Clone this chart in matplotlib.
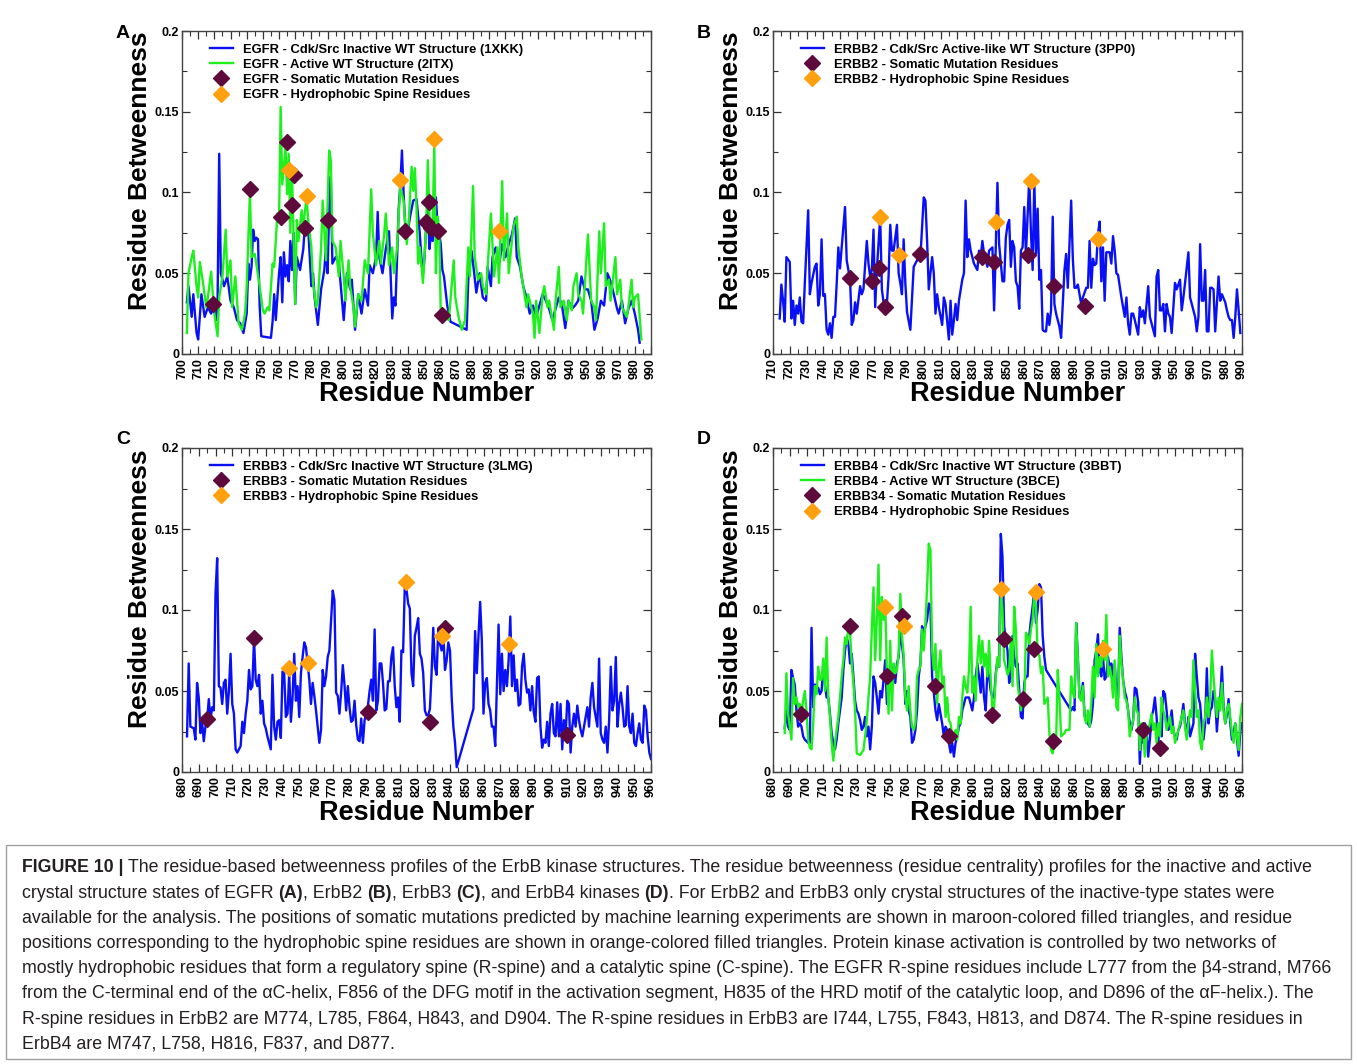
import matplotlib
matplotlib.use("Agg")
import matplotlib.pyplot as plt
from matplotlib.ticker import MultipleLocator
from matplotlib.lines import Line2D
from matplotlib.patches import Rectangle

plt.rcParams['font.family'] = ['Liberation Sans', 'DejaVu Sans']

# ---------------- data (residue, betweenness) ----------------
# A: EGFR
egfr_inactive = [
    (703, .032), (704, .042), (706, .023), (707, .037), (709, .013), (710, .009), (712, .037), (714, .023),
    (716, .029), (718, .025), (720, .031), (721, .021), (722, .033), (723, .124), (724, .050), (726, .042),
    (728, .048), (730, .033), (732, .029), (734, .021), (736, .019), (738, .013), (740, .025), (741, .056),
    (742, .046), (743, .054), (744, .077), (745, .070), (746, .072), (747, .071), (748, .030), (749, .011),
    (755, .010), (756, .020), (757, .037), (758, .021), (760, .050), (761, .060), (762, .032), (763, .063),
    (764, .048), (765, .055), (766, .045), (767, .070), (768, .052), (769, .075), (770, .031), (771, .060),
    (773, .052), (775, .065), (776, .080), (777, .075), (778, .078), (780, .042), (781, .050), (782, .035),
    (784, .018), (786, .040), (788, .052), (789, .066), (790, .050), (791, .090), (792, .110), (793, .056),
    (795, .060), (797, .056), (799, .033), (800, .021), (802, .050), (804, .040), (805, .046), (807, .015),
    (809, .037), (811, .025), (813, .040), (815, .030), (816, .055), (818, .050), (820, .060), (821, .088),
    (822, .060), (824, .050), (826, .065), (828, .076), (830, .022), (831, .035), (832, .030), (834, .090),
    (835, .105), (836, .126), (837, .100), (838, .080), (839, .072), (841, .085), (843, .095), (845, .096),
    (847, .075), (848, .060), (849, .050), (850, .060), (851, .080), (852, .090), (853, .065), (854, .075),
    (855, .070), (856, .080), (857, .097), (858, .080), (859, .075), (860, .068), (861, .052), (862, .048),
    (864, .030), (866, .020), (876, .015), (877, .046), (879, .064), (880, .056), (882, .038), (884, .050),
    (886, .035), (888, .033), (889, .054), (891, .042), (892, .060), (894, .066), (896, .055), (898, .068),
    (900, .060), (902, .068), (904, .074), (906, .084), (907, .060), (909, .054), (911, .042), (913, .035),
    (915, .025), (917, .030), (919, .023), (921, .030), (923, .037), (925, .033), (927, .028), (929, .021),
    (931, .028), (933, .035), (935, .030), (937, .016), (939, .033), (941, .028), (943, .030), (945, .033),
    (947, .048), (949, .040), (951, .040), (953, .033), (955, .015), (957, .022), (959, .033), (961, .030),
    (963, .050), (965, .045), (967, .037), (969, .028), (970, .025), (972, .033), (974, .019), (976, .028),
    (978, .033), (980, .025), (982, .015), (983, .007)]

egfr_active = [
    (703, .013), (704, .050), (706, .060), (707, .064), (709, .042), (710, .035), (711, .057), (713, .044),
    (715, .029), (716, .035), (718, .051), (720, .025), (722, .011), (723, .035), (725, .048), (727, .077),
    (728, .048), (730, .058), (731, .029), (733, .048), (735, .019), (736, .017), (737, .015), (739, .025),
    (740, .042), (742, .100), (743, .060), (745, .062), (748, .042), (750, .027), (751, .025), (753, .029),
    (754, .027), (756, .056), (757, .054), (759, .087), (760, .083), (761, .153), (762, .105), (764, .128),
    (765, .099), (766, .124), (767, .075), (768, .112), (770, .031), (771, .083), (772, .070), (774, .089),
    (775, .079), (777, .097), (778, .083), (780, .066), (781, .044), (783, .029), (784, .033), (786, .066),
    (787, .095), (789, .058), (791, .126), (792, .120), (793, .070), (795, .066), (797, .048), (798, .070),
    (800, .048), (801, .033), (803, .058), (804, .042), (806, .029), (807, .017), (809, .037), (811, .033),
    (813, .058), (815, .050), (817, .102), (818, .075), (820, .055), (822, .070), (823, .056), (825, .074),
    (826, .087), (828, .055), (830, .066), (831, .050), (833, .066), (834, .087), (835, .103), (837, .095),
    (839, .068), (840, .079), (842, .116), (843, .101), (844, .115), (845, .091), (846, .056), (847, .066),
    (849, .044), (851, .079), (852, .120), (853, .085), (855, .079), (856, .130), (857, .050), (858, .085),
    (859, .077), (860, .025), (862, .023), (865, .021), (868, .058), (869, .035), (871, .023), (873, .015),
    (875, .021), (877, .066), (878, .048), (880, .104), (881, .060), (883, .046), (885, .050), (886, .042),
    (888, .037), (890, .070), (891, .087), (893, .048), (895, .066), (896, .044), (898, .107), (899, .058),
    (901, .087), (902, .050), (904, .070), (905, .079), (907, .085), (908, .066), (910, .048), (911, .042),
    (913, .029), (914, .037), (917, .025), (918, .010), (919, .033), (921, .013), (923, .037), (924, .042),
    (926, .029), (927, .033), (930, .015), (931, .033), (933, .054), (934, .029), (936, .033), (938, .021),
    (939, .033), (941, .027), (942, .042), (944, .050), (945, .037), (947, .033), (948, .025), (950, .058),
    (951, .074), (953, .033), (955, .029), (956, .021), (958, .076), (959, .050), (961, .081), (962, .042),
    (964, .046), (965, .033), (968, .060), (969, .037), (971, .046), (972, .029), (975, .023), (976, .029),
    (978, .046), (979, .029), (980, .035), (982, .037), (984, .009)]

egfr_somatic = [(719, .031), (742, .102), (761, .085), (765, .131), (768, .092), (769, .111), (776, .078),
                (790, .083), (838, .076), (851, .082), (853, .094), (854, .078), (858, .076), (861, .024)]
egfr_spine = [(766, .114), (777, .098), (835, .108), (856, .133), (896, .076)]

# B: ERBB2
erbb2_inactive = [
    (714, .022), (715, .043), (716, .033), (717, .020), (718, .060), (720, .057), (721, .022), (722, .033),
    (723, .018), (724, .030), (725, .025), (726, .035), (727, .020), (728, .019), (729, .044), (731, .089),
    (732, .037), (733, .044), (735, .054), (736, .056), (737, .030), (738, .037), (739, .071), (740, .036),
    (741, .037), (742, .015), (743, .012), (744, .019), (745, .010), (746, .023), (747, .023), (748, .043),
    (749, .066), (750, .053), (751, .066), (753, .091), (754, .058), (756, .046), (757, .018), (758, .021),
    (759, .032), (760, .025), (762, .042), (763, .037), (764, .040), (766, .070), (767, .056), (768, .048),
    (769, .052), (770, .077), (771, .029), (772, .052), (774, .085), (775, .040), (776, .032), (778, .031),
    (779, .048), (780, .080), (781, .064), (782, .064), (784, .080), (785, .050), (786, .044), (787, .037),
    (788, .071), (789, .044), (790, .026), (792, .015), (793, .035), (794, .054), (796, .058), (797, .063),
    (798, .060), (800, .097), (801, .095), (802, .070), (803, .040), (805, .060), (806, .050), (807, .025),
    (808, .037), (809, .029), (811, .018), (812, .035), (813, .031), (815, .009), (816, .033), (817, .012),
    (818, .021), (819, .031), (820, .021), (821, .033), (823, .046), (824, .050), (825, .095), (826, .060),
    (827, .071), (828, .064), (830, .056), (832, .052), (833, .064), (834, .060), (835, .070), (836, .062),
    (838, .054), (839, .064), (841, .066), (842, .027), (843, .066), (844, .106), (845, .068), (847, .045),
    (848, .045), (849, .072), (850, .080), (851, .083), (852, .054), (853, .070), (854, .066), (855, .045),
    (856, .042), (857, .028), (858, .064), (859, .066), (860, .091), (861, .062), (862, .085), (863, .109),
    (864, .075), (865, .052), (866, .107), (867, .062), (868, .090), (869, .046), (870, .052), (871, .015),
    (872, .014), (873, .014), (874, .025), (875, .018), (876, .027), (877, .085), (878, .031), (879, .025),
    (881, .017), (882, .010), (883, .031), (884, .052), (885, .062), (886, .041), (888, .095), (889, .059),
    (890, .041), (891, .041), (892, .043), (893, .037), (894, .031), (895, .035), (897, .041), (898, .041),
    (899, .070), (900, .041), (901, .059), (902, .055), (903, .056), (904, .074), (905, .082), (906, .045),
    (907, .066), (908, .033), (909, .063), (911, .063), (912, .056), (913, .073), (914, .064), (915, .050),
    (916, .049), (918, .035), (919, .029), (920, .023), (921, .035), (922, .019), (923, .012), (924, .025),
    (925, .025), (926, .021), (928, .012), (929, .029), (930, .023), (931, .027), (932, .019), (934, .042),
    (935, .023), (937, .015), (938, .011), (939, .048), (940, .052), (941, .027), (942, .027), (943, .031),
    (944, .014), (945, .031), (946, .025), (947, .023), (948, .013), (949, .029), (950, .044), (951, .040),
    (953, .046), (954, .027), (955, .035), (956, .044), (958, .063), (959, .035), (961, .027), (962, .023),
    (963, .014), (964, .023), (965, .068), (966, .033), (967, .033), (968, .052), (969, .014), (970, .014),
    (971, .041), (972, .041), (973, .040), (974, .014), (975, .031), (976, .048), (977, .033), (978, .037),
    (980, .032), (981, .027), (982, .023), (983, .021), (984, .021), (985, .010), (986, .023), (987, .040),
    (988, .027), (989, .013)]

erbb2_somatic = [(756, .047), (769, .045), (773, .053), (777, .029), (798, .062), (835, .060), (842, .057),
                 (862, .061), (878, .042), (896, .030)]
erbb2_spine = [(774, .085), (785, .061), (843, .082), (864, .107), (904, .071)]

# C: ERBB3
erbb3_inactive = [
    (683, .022), (684, .067), (685, .028), (687, .027), (688, .020), (689, .055), (690, .046), (691, .024),
    (692, .031), (693, .019), (694, .028), (695, .032), (696, .045), (697, .032), (698, .040), (699, .038),
    (700, .110), (701, .132), (702, .053), (703, .052), (704, .042), (705, .055), (706, .057), (707, .036),
    (708, .050), (709, .073), (710, .042), (711, .036), (712, .014), (713, .012), (714, .014), (715, .016),
    (716, .031), (717, .024), (718, .036), (719, .044), (720, .063), (721, .051), (722, .053), (723, .082),
    (724, .057), (725, .053), (726, .060), (727, .036), (728, .044), (729, .030), (730, .027), (731, .022),
    (733, .014), (734, .060), (735, .028), (736, .020), (737, .031), (738, .032), (739, .021), (740, .062),
    (741, .061), (742, .034), (743, .036), (744, .061), (745, .031), (746, .046), (747, .073), (748, .044),
    (749, .053), (750, .034), (751, .061), (752, .071), (753, .080), (754, .077), (755, .067), (756, .057),
    (757, .042), (758, .055), (759, .047), (760, .038), (761, .028), (762, .018), (763, .026), (764, .063),
    (765, .053), (766, .059), (767, .071), (768, .075), (769, .094), (770, .112), (771, .106), (772, .049),
    (773, .047), (774, .036), (775, .049), (776, .066), (777, .054), (778, .038), (779, .053), (780, .040),
    (781, .031), (782, .032), (783, .044), (784, .029), (785, .020), (786, .019), (787, .033), (788, .018),
    (789, .032), (790, .036), (791, .041), (792, .050), (793, .057), (794, .044), (795, .088), (796, .038),
    (797, .044), (798, .067), (799, .067), (800, .055), (801, .038), (802, .039), (803, .056), (804, .056),
    (805, .071), (806, .077), (807, .053), (808, .040), (809, .046), (810, .031), (811, .075), (812, .074),
    (813, .114), (814, .113), (815, .104), (816, .101), (817, .061), (818, .053), (819, .084), (820, .089),
    (821, .095), (822, .073), (823, .070), (824, .061), (825, .038), (826, .035), (827, .035), (828, .039),
    (829, .061), (830, .089), (831, .065), (832, .060), (833, .088), (834, .079), (835, .075), (836, .085),
    (837, .063), (838, .069), (839, .080), (840, .075), (841, .046), (842, .028), (843, .018), (844, .003),
    (854, .039), (855, .087), (856, .061), (857, .084), (858, .105), (859, .081), (860, .036), (861, .055),
    (862, .058), (863, .042), (864, .038), (865, .028), (866, .028), (867, .016), (868, .053), (869, .091),
    (870, .048), (871, .073), (872, .050), (873, .063), (874, .053), (875, .069), (876, .096), (877, .053),
    (878, .072), (879, .050), (880, .057), (881, .041), (882, .042), (883, .065), (884, .073), (885, .057),
    (886, .049), (887, .051), (888, .038), (889, .053), (890, .037), (891, .031), (892, .058), (893, .059),
    (894, .028), (895, .015), (896, .020), (897, .018), (898, .031), (899, .016), (900, .036), (901, .042),
    (902, .024), (903, .022), (904, .043), (905, .022), (906, .042), (907, .014), (908, .032), (909, .022),
    (910, .044), (911, .042), (912, .012), (913, .028), (914, .036), (915, .028), (916, .041), (917, .032),
    (918, .026), (919, .022), (920, .028), (921, .034), (922, .040), (923, .028), (924, .046), (925, .055),
    (926, .040), (927, .034), (928, .028), (929, .070), (930, .024), (931, .020), (932, .018), (933, .028),
    (934, .012), (935, .032), (936, .065), (937, .038), (938, .044), (939, .071), (940, .028), (941, .042),
    (942, .049), (943, .040), (944, .028), (945, .029), (946, .053), (947, .028), (948, .024), (949, .036),
    (950, .018), (951, .016), (952, .024), (953, .030), (954, .020), (955, .018), (956, .041), (957, .038),
    (958, .022), (959, .012), (960, .008)]

erbb3_somatic = [(695, .033), (723, .083), (791, .037), (828, .031), (837, .089), (910, .023)]
erbb3_spine = [(744, .064), (755, .067), (814, .117), (835, .084), (875, .079)]

# D: ERBB4
erbb4_inactive = [
    (687, .027), (688, .038), (689, .028), (690, .026), (691, .063), (692, .058), (693, .054), (694, .038),
    (695, .028), (696, .030), (697, .028), (698, .022), (699, .020), (700, .019), (701, .018), (702, .018),
    (703, .089), (704, .040), (705, .054), (706, .050), (707, .052), (708, .048), (709, .050), (710, .065),
    (711, .054), (712, .046), (713, .046), (714, .036), (715, .024), (716, .018), (717, .014), (718, .020),
    (719, .030), (720, .038), (721, .046), (722, .063), (723, .075), (724, .083), (725, .079), (726, .067),
    (727, .073), (728, .059), (729, .044), (730, .038), (731, .036), (732, .032), (733, .026), (734, .028),
    (735, .034), (736, .022), (737, .028), (738, .014), (739, .028), (740, .059), (741, .055), (742, .046),
    (743, .036), (744, .050), (745, .046), (746, .057), (747, .069), (748, .042), (749, .055), (750, .053),
    (751, .063), (752, .065), (753, .055), (754, .067), (755, .071), (756, .086), (757, .079), (758, .069),
    (759, .042), (760, .050), (761, .038), (762, .034), (763, .018), (764, .020), (765, .026), (766, .038),
    (767, .059), (768, .067), (769, .090), (770, .086), (771, .090), (772, .094), (773, .104), (774, .103),
    (775, .059), (776, .049), (777, .038), (778, .032), (779, .042), (780, .036), (781, .030), (782, .022),
    (783, .028), (784, .026), (785, .018), (786, .012), (787, .018), (788, .0095), (789, .018), (790, .022),
    (791, .028), (792, .030), (793, .038), (794, .042), (795, .046), (796, .046), (797, .046), (798, .042),
    (799, .038), (800, .046), (801, .059), (802, .067), (803, .059), (804, .049), (805, .065), (806, .046),
    (807, .038), (808, .063), (809, .059), (810, .050), (811, .046), (812, .046), (813, .061), (814, .069),
    (815, .065), (816, .147), (817, .133), (818, .090), (819, .082), (820, .075), (821, .055), (822, .063),
    (823, .084), (824, .071), (825, .065), (826, .067), (827, .050), (828, .034), (829, .033), (830, .055),
    (831, .059), (832, .059), (833, .084), (834, .094), (835, .102), (836, .112), (837, .092), (838, .100),
    (839, .116), (840, .114), (841, .084), (842, .071), (843, .063), (858, .038), (859, .040), (860, .038),
    (861, .092), (862, .071), (863, .046), (864, .045), (865, .055), (866, .035), (867, .032), (868, .030),
    (869, .028), (870, .032), (871, .042), (872, .069), (873, .075), (874, .085), (875, .063), (876, .059),
    (877, .071), (878, .057), (879, .059), (880, .071), (881, .065), (882, .067), (883, .059), (884, .067),
    (885, .050), (886, .046), (887, .089), (888, .071), (889, .057), (890, .050), (891, .046), (892, .038),
    (893, .030), (894, .026), (895, .032), (896, .052), (897, .051), (898, .043), (899, .005), (900, .028),
    (901, .018), (902, .030), (903, .026), (904, .0095), (905, .020), (906, .034), (907, .038), (908, .046),
    (909, .034), (910, .018), (911, .030), (912, .022), (913, .050), (914, .048), (915, .038), (916, .026),
    (917, .030), (918, .038), (919, .026), (920, .022), (921, .020), (922, .026), (923, .028), (924, .034),
    (925, .042), (926, .030), (927, .022), (928, .034), (929, .022), (930, .026), (931, .030), (932, .073),
    (933, .059), (934, .046), (935, .042), (936, .028), (937, .020), (938, .030), (939, .064), (940, .030),
    (941, .038), (942, .040), (943, .050), (944, .045), (945, .025), (946, .040), (947, .045), (948, .065),
    (949, .040), (950, .030), (951, .035), (952, .045), (953, .030), (954, .020), (955, .025), (956, .030),
    (957, .020), (958, .010), (959, .025), (960, .030)]

erbb4_active = [
    (687, .024), (688, .061), (689, .036), (690, .028), (691, .020), (692, .058), (693, .042), (694, .046),
    (695, .040), (696, .042), (697, .036), (698, .044), (699, .050), (700, .038), (701, .020), (702, .015),
    (703, .014), (704, .030), (705, .053), (706, .048), (707, .065), (708, .057), (709, .057), (710, .070),
    (711, .050), (712, .083), (713, .046), (714, .034), (715, .018), (716, .007), (717, .018), (718, .026),
    (719, .034), (720, .046), (721, .059), (722, .069), (723, .083), (724, .079), (725, .090), (726, .086),
    (727, .067), (728, .055), (729, .038), (730, .0115), (731, .011), (732, .0105), (733, .012), (734, .0136),
    (735, .022), (736, .032), (737, .046), (738, .059), (739, .088), (740, .114), (741, .069), (742, .094),
    (743, .128), (744, .069), (745, .108), (746, .094), (747, .104), (748, .061), (749, .036), (750, .081),
    (751, .038), (752, .067), (753, .061), (754, .063), (755, .073), (756, .110), (757, .084), (758, .072),
    (759, .046), (760, .038), (761, .053), (762, .038), (763, .028), (764, .026), (765, .030), (766, .059),
    (767, .063), (768, .065), (769, .088), (770, .075), (771, .092), (772, .114), (773, .141), (774, .137),
    (775, .075), (776, .063), (777, .079), (778, .042), (779, .065), (780, .075), (781, .053), (782, .059),
    (783, .034), (784, .046), (785, .032), (786, .030), (787, .022), (788, .020), (789, .026), (790, .020),
    (791, .034), (792, .030), (793, .046), (794, .059), (795, .053), (796, .049), (797, .063), (798, .102),
    (799, .049), (800, .059), (801, .044), (802, .069), (803, .084), (804, .067), (805, .081), (806, .065),
    (807, .073), (808, .059), (809, .081), (810, .057), (811, .038), (812, .040), (813, .059), (814, .071),
    (815, .065), (816, .112), (817, .100), (818, .069), (819, .065), (820, .060), (821, .063), (822, .083),
    (823, .053), (824, .102), (825, .088), (826, .055), (827, .046), (828, .038), (829, .046), (830, .042),
    (831, .086), (832, .084), (833, .079), (834, .088), (835, .094), (836, .110), (837, .102), (838, .073),
    (839, .072), (840, .061), (841, .065), (842, .042), (843, .044), (844, .046), (845, .024), (846, .0136),
    (847, .0115), (848, .018), (849, .018), (850, .063), (851, .046), (852, .022), (853, .023), (854, .024),
    (855, .026), (856, .026), (857, .026), (858, .059), (859, .049), (860, .046), (861, .092), (862, .069),
    (863, .046), (864, .044), (865, .053), (866, .034), (867, .030), (868, .038), (869, .028), (870, .042),
    (871, .065), (872, .046), (873, .079), (874, .059), (875, .071), (876, .065), (877, .081), (878, .069),
    (879, .097), (880, .059), (881, .065), (882, .059), (883, .046), (884, .069), (885, .040), (886, .038),
    (887, .084), (888, .067), (889, .057), (890, .046), (891, .044), (892, .038), (893, .022), (894, .028),
    (895, .032), (896, .046), (897, .038), (898, .036), (899, .0136), (900, .030), (901, .026), (902, .0095),
    (903, .022), (904, .026), (905, .030), (906, .036), (907, .026), (908, .030), (909, .018), (910, .030),
    (911, .022), (912, .046), (913, .038), (914, .034), (915, .026), (916, .030), (917, .034), (918, .024),
    (919, .028), (920, .018), (921, .022), (922, .026), (923, .030), (924, .034), (925, .038), (926, .028),
    (927, .020), (928, .030), (929, .038), (930, .034), (931, .069), (932, .050), (933, .034), (934, .038),
    (935, .018), (936, .014), (937, .030), (938, .034), (939, .046), (940, .034), (941, .046), (942, .075),
    (943, .059), (944, .046), (945, .034), (946, .046), (947, .038), (948, .055), (949, .038), (950, .030),
    (951, .038), (952, .042), (953, .034), (954, .024), (955, .018), (956, .030), (957, .022), (958, .0136),
    (959, .034), (960, .042)]

erbb4_somatic = [(697, .036), (726, .090), (748, .059), (757, .096), (777, .053), (785, .022), (811, .035),
                 (818, .082), (829, .045), (836, .076), (847, .019), (901, .026), (911, .015)]
erbb4_spine = [(747, .102), (758, .090), (816, .113), (837, .111), (877, .076)]

# ---------------- styling ----------------
BLUE = '#0a10f5'
GREEN = '#1ef01e'
MAROON = '#5e0a3c'
ORANGE = '#ffa00f'

fig = plt.figure(figsize=(13.57, 10.64), dpi=100)
W, H = 1357.0, 1064.0


def px_axes(left, top, right, bottom):
    return fig.add_axes([left / W, 1 - bottom / H, (right - left) / W, (bottom - top) / H])


def draw_panel(ax, series, somatic, spine, labels, x0, x1):
    handles = []
    for pts, color in series:
        xs, ys = zip(*pts)
        ax.plot(xs, ys, color=color, lw=1.7, zorder=2)
        handles.append(Line2D([], [], color=color, lw=1.7))
    sx, sy = zip(*somatic)
    ax.plot(sx, sy, 'D', color=MAROON, ms=8, ls='none', zorder=4)
    ox, oy = zip(*spine)
    ax.plot(ox, oy, 'D', color=ORANGE, ms=8, ls='none', zorder=4)
    handles.append(Line2D([], [], marker='D', color=MAROON, ms=8, ls='none'))
    handles.append(Line2D([], [], marker='D', color=ORANGE, ms=8, ls='none'))

    ax.set_xlim(x0, x1)
    ax.set_ylim(0, 0.2)
    xt = list(range(x0, x1 + 1, 10))
    ax.set_xticks(xt, [str(t) for t in xt], rotation=90, fontsize=9, fontweight='bold')
    ax.set_yticks([0, 0.05, 0.1, 0.15, 0.2], ['0', '0.05', '0.1', '0.15', '0.2'],
                  fontsize=9, fontweight='bold')
    ax.xaxis.set_minor_locator(MultipleLocator(5))
    ax.yaxis.set_minor_locator(MultipleLocator(0.025))
    ax.tick_params(which='both', direction='in', top=True, right=True, color='#333333')
    ax.tick_params(axis='x', pad=3)
    ax.tick_params(axis='y', pad=2)
    ax.tick_params(which='major', length=6, width=0.9)
    ax.tick_params(which='minor', length=3.5, width=0.8)
    for s in ax.spines.values():
        s.set_color('#444444')
        s.set_linewidth(1.0)
    ax.set_xlabel('Residue Number', fontsize=19.5, fontweight='bold', labelpad=0)
    ax.set_ylabel('Residue Betweenness', fontsize=19, fontweight='bold', labelpad=1)
    ax.xaxis.set_label_coords(0.522, -0.085)
    ax.yaxis.set_label_coords(-0.064, 0.567)
    ax.legend(handles, labels, loc='upper left', bbox_to_anchor=(0.04, 0.99), frameon=False,
              prop={'size': 9.4, 'weight': 'bold'}, handlelength=1.75, handletextpad=0.75,
              labelspacing=0.24, borderaxespad=0.3)


axA = px_axes(182, 31, 651, 354)
draw_panel(axA, [(egfr_inactive, BLUE), (egfr_active, GREEN)], egfr_somatic, egfr_spine,
           ['EGFR - Cdk/Src Inactive WT Structure (1XKK)', 'EGFR - Active WT Structure (2ITX)',
            'EGFR - Somatic Mutation Residues', 'EGFR - Hydrophobic Spine Residues'], 700, 990)

axB = px_axes(773, 31, 1242, 354)
draw_panel(axB, [(erbb2_inactive, BLUE)], erbb2_somatic, erbb2_spine,
           ['ERBB2 - Cdk/Src Active-like WT Structure (3PP0)',
            'ERBB2 - Somatic Mutation Residues', 'ERBB2 - Hydrophobic Spine Residues'], 710, 990)

axC = px_axes(182, 448, 651, 772)
draw_panel(axC, [(erbb3_inactive, BLUE)], erbb3_somatic, erbb3_spine,
           ['ERBB3 - Cdk/Src Inactive WT Structure (3LMG)',
            'ERBB3 - Somatic Mutation Residues', 'ERBB3 - Hydrophobic Spine Residues'], 680, 960)

axD = px_axes(773, 448, 1242, 772)
draw_panel(axD, [(erbb4_inactive, BLUE), (erbb4_active, GREEN)], erbb4_somatic, erbb4_spine,
           ['ERBB4 - Cdk/Src Inactive WT Structure (3BBT)', 'ERBB4 - Active WT Structure (3BCE)',
            'ERBB34 - Somatic Mutation Residues', 'ERBB4 - Hydrophobic Spine Residues'], 680, 960)

for letter, (lx, ly) in zip('ABCD', [(116, 33), (697, 33), (116, 440), (697, 440)]):
    fig.text(lx / W, 1 - ly / H, letter, fontsize=14, fontweight='bold', ha='left', va='center')

# ---------------- caption ----------------
fig.patches.append(Rectangle((6 / W, 1 - 1059 / H), 1345 / W, 214 / H, transform=fig.transFigure,
                             fill=False, edgecolor='#a0a0a0', lw=1.0))

caption = [
    [('FIGURE 10 | ', True), ('The residue-based betweenness profiles of the ErbB kinase structures. The residue '
                             'betweenness (residue centrality) profiles for the inactive and active', False)],
    [('crystal structure states of EGFR ', False), ('(A)', True), (', ErbB2 ', False), ('(B)', True),
     (', ErbB3 ', False), ('(C)', True), (', and ErbB4 kinases ', False), ('(D)', True),
     ('. For ErbB2 and ErbB3 only crystal structures of the inactive-type states were', False)],
    [('available for the analysis. The positions of somatic mutations predicted by machine learning experiments '
      'are shown in maroon-colored filled triangles, and residue', False)],
    [('positions corresponding to the hydrophobic spine residues are shown in orange-colored filled triangles. '
      'Protein kinase activation is controlled by two networks of', False)],
    [('mostly hydrophobic residues that form a regulatory spine (R-spine) and a catalytic spine (C-spine). '
      'The EGFR R-spine residues include L777 from the \u03b24-strand, M766', False)],
    [('from the C-terminal end of the \u03b1C-helix, F856 of the DFG motif in the activation segment, H835 of '
      'the HRD motif of the catalytic loop, and D896 of the \u03b1F-helix.). The', False)],
    [('R-spine residues in ErbB2 are M774, L785, F864, H843, and D904. The R-spine residues in ErbB3 are '
      'I744, L755, F843, H813, and D874. The R-spine residues in', False)],
    [('ErbB4 are M747, L758, H816, F837, and D877.', False)],
]

renderer = fig.canvas.get_renderer()
cap_size = 12.8
for i, runs in enumerate(caption):
    x = 22.0
    y = 868 + i * 25.2
    for txt, bold in runs:
        t = fig.text(x / W, 1 - y / H, txt, fontsize=cap_size, color='#231f20',
                     fontweight='bold' if bold else 'normal', ha='left', va='center')
        bb = t.get_window_extent(renderer=renderer)
        x += bb.width

fig.savefig('out.png', dpi=100)
